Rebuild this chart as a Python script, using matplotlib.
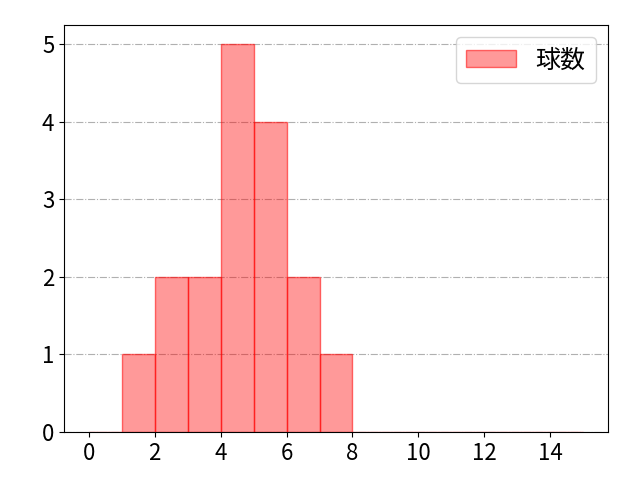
import matplotlib
matplotlib.use('Agg')
from matplotlib import pyplot as plt

plt.rcParams['font.family'] = ['Noto Sans CJK JP', 'DejaVu Sans']

# 球数ヒストグラム
bin_edges = list(range(0, 16))
counts = [0, 1, 2, 2, 5, 4, 2, 1, 0, 0, 0, 0, 0, 0, 0]
label = '球数'

fig, ax = plt.subplots(figsize=(6.4, 4.8), dpi=100)
ax.hist(bin_edges[:-1], bins=bin_edges, weights=counts,
        facecolor=(1, 0, 0, 0.4), edgecolor=(1, 0, 0, 0.55), linewidth=1,
        label=label)
ax.grid(axis='y', linestyle='-.', color='#b0b0b0', linewidth=0.8)
ax.set_axisbelow(True)
ax.set_xticks(range(0, 16, 2))
ax.set_yticks(range(0, 6))
ax.tick_params(axis='both', labelsize=16)
ax.legend(fontsize=18, loc='upper right')
fig.subplots_adjust(left=0.1, right=0.95, top=0.948, bottom=0.1)
fig.savefig('out.png')
